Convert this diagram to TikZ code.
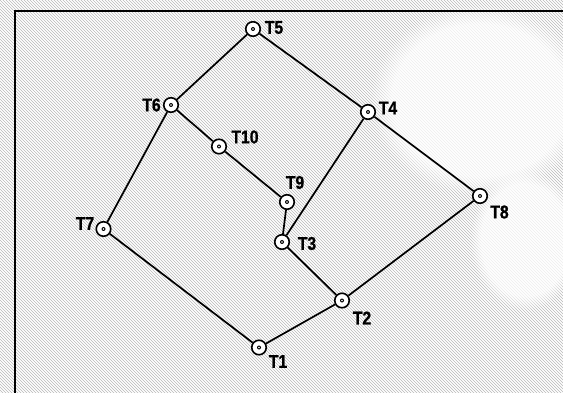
\documentclass[tikz,border=0pt]{standalone}
\usepackage{fontspec}
\newfontfamily\labfont{Liberation Sans}[FakeStretch=0.85,FakeBold=1]
\usetikzlibrary{patterns,fadings}
\tikzset{
  stn/.style={circle, draw=black, fill=white, line width=1.6pt, minimum size=14.5pt, inner sep=0pt},
  lab/.style={font=\labfont\bfseries\fontsize{18.5}{19}\selectfont, inner sep=0pt, text=black},
  edge/.style={line width=1.7pt, black},
  frame/.style={line width=2pt, black},
  blotch/.style={fill=white, opacity=0.75, path fading=circle with fuzzy edge 20 percent}
}
\begin{document}
\begin{tikzpicture}[x=1pt,y=-1pt]
\useasboundingbox (0,0) rectangle (563,393);
\fill[white] (0,0) rectangle (563,393);
\fill[pattern=north west lines, pattern color=gray!55] (0,0) rectangle (563,393);
% lighter areas on the right
\fill[blotch] (480,100) ellipse (110 and 95);
\fill[blotch] (525,240) ellipse (55 and 70);
\coordinate (fa) at (14.5,393);
\coordinate (fb) at (14.5,11);
\coordinate (fc) at (563,11);
\draw[frame] (fa) -- (fb) -- (fc);
% stations
\node[stn] (T5) at (253,29) {};
\node[stn] (T4) at (368,112) {};
\node[stn] (T6) at (171,105) {};
\node[stn] (T10) at (219,146.5) {};
\node[stn] (T9) at (287,202) {};
\node[stn] (T3) at (282,242) {};
\node[stn] (T2) at (342,300.5) {};
\node[stn] (T8) at (480,196) {};
\node[stn] (T7) at (103.5,229) {};
\node[stn] (T1) at (259,347.5) {};
% edges
\draw[edge] (T5) -- (T6);
\draw[edge] (T5) -- (T4);
\draw[edge] (T6) -- (T7);
\draw[edge] (T6) -- (T10);
\draw[edge] (T10) -- (T9);
\draw[edge] (T9) -- (T3);
\draw[edge] (T4) -- (T3);
\draw[edge] (T4) -- (T8);
\draw[edge] (T3) -- (T2);
\draw[edge] (T8) -- (T2);
\draw[edge] (T2) -- (T1);
\draw[edge] (T7) -- (T1);
% inner dots
\foreach \n in {T1,T2,T3,T4,T5,T6,T7,T8,T9,T10}{
  \fill[black] (\n.center) circle (2pt);
  \fill[white] (\n.center) circle (0.9pt);
}
% labels
\node[lab] (L5) at (274,27.5) {T5};
\node[lab] (L4) at (388,108) {T4};
\node[lab] (L6) at (151.5,105) {T6};
\node[lab] (L10) at (245,137) {T10};
\node[lab] (L9) at (295,182.5) {T9};
\node[lab] (L3) at (307,243.5) {T3};
\node[lab] (L2) at (362,318) {T2};
\node[lab] (L8) at (499.5,212) {T8};
\node[lab] (L7) at (85,223.5) {T7};
\node[lab] (L1) at (278,361.5) {T1};
\end{tikzpicture}
\end{document}
